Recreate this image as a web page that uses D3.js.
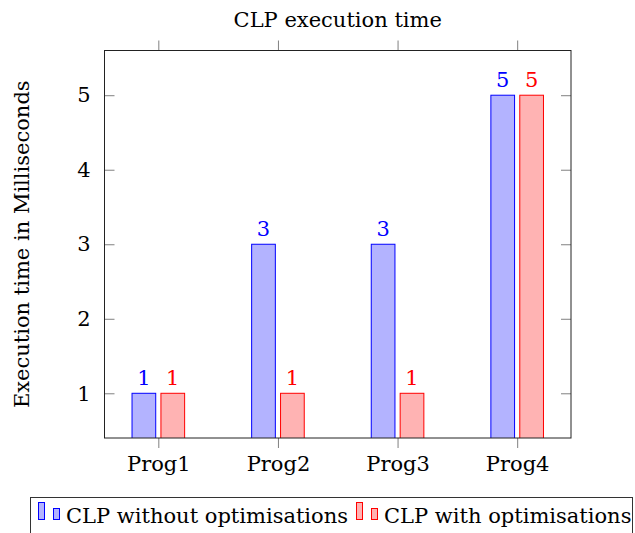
<!DOCTYPE html>
<html><head><meta charset="utf-8">
<script src="https://cdn.jsdelivr.net/npm/d3@7"></script>
<style>body{margin:0;background:#fff}svg{display:block}text{font-family:"DejaVu Serif",serif}</style>
</head><body><svg id="c" width="635" height="533"></svg>
<script>
const categories = ["Prog1","Prog2","Prog3","Prog4"];
const seriesNames = ["CLP without optimisations","CLP with optimisations"];
const withoutOpt = [1,3,3,5];
const withOpt = [1,1,1,5];
const yTicks = [1,2,3,4,5];
const title = "CLP execution time";
const yLabel = "Execution time in Milliseconds";

const series = [
  {name: seriesNames[0], values: withoutOpt, fill:"#b3b3ff", stroke:"#0000ff"},
  {name: seriesNames[1], values: withOpt, fill:"#ffb3b3", stroke:"#ff0000"}
];
const svg = d3.select("#c");
const L=104.5, R=571, T=50.5, B=438;
const fs = 21;
const x = d3.scalePoint().domain(categories).range([L,R]).padding(0.45);
const y = d3.scaleLinear().domain([0.4,5.6]).range([B,T]);
const sub = d3.scaleBand().domain(seriesNames).range([-26.3,26.3]).paddingInner(0.18);

svg.append("defs").append("clipPath").attr("id","clip")
  .append("rect").attr("x",L).attr("y",T).attr("width",R-L).attr("height",B-T);

// bars
const g = svg.append("g").attr("clip-path","url(#clip)");
series.forEach(s=>{
  g.selectAll(null).data(categories).enter().append("rect")
    .attr("x",(c)=>x(c)+sub(s.name)).attr("width",sub.bandwidth())
    .attr("y",(c,i)=>y(s.values[i])).attr("height",(c,i)=>y(0)-y(s.values[i]))
    .attr("fill",s.fill).attr("stroke",s.stroke).attr("stroke-width",1);
});
// value labels
series.forEach(s=>{
  svg.selectAll(null).data(categories).enter().append("text")
    .attr("x",(c)=>x(c)+sub(s.name)+sub.bandwidth()/2).attr("y",(c,i)=>y(s.values[i])-8)
    .attr("text-anchor","middle").attr("font-size",fs).attr("fill",s.stroke)
    .text((c,i)=>s.values[i]);
});

// ticks
const tk = "#808080";
const axB = svg.append("g").attr("transform",`translate(0,${B})`)
  .call(d3.axisBottom(x).tickSize(10).tickPadding(8));
const axT = svg.append("g").attr("transform",`translate(0,${T})`)
  .call(d3.axisTop(x).tickSize(10).tickFormat(""));
const axL = svg.append("g").attr("transform",`translate(${L},0)`)
  .call(d3.axisLeft(y).tickValues(yTicks).tickSize(-10).tickPadding(14).tickFormat(d3.format("d")));
const axR = svg.append("g").attr("transform",`translate(${R},0)`)
  .call(d3.axisRight(y).tickValues(yTicks).tickSize(-10).tickFormat(""));
[axB,axT,axL,axR].forEach(a=>{
  a.select(".domain").remove();
  a.selectAll(".tick line").attr("stroke",tk);
  a.selectAll("text").attr("font-family","DejaVu Serif").attr("font-size",fs).attr("fill","#000");
});
// frame
svg.append("rect").attr("x",L).attr("y",T).attr("width",R-L).attr("height",B-T)
  .attr("fill","none").attr("stroke","#222").attr("stroke-width",1);

// title & y label
svg.append("text").attr("x",(L+R)/2).attr("y",27).attr("text-anchor","middle")
  .attr("font-size",fs).text(title);
svg.append("text").attr("transform",`translate(29,${(T+B)/2}) rotate(-90)`)
  .attr("text-anchor","middle").attr("font-size",fs).text(yLabel);

// legend
const lg = svg.append("g");
lg.append("rect").attr("x",30.5).attr("y",497.5).attr("width",602).attr("height",60)
  .attr("fill","#fff").attr("stroke","#333");
const legX = [38, 356];
series.forEach((s,i)=>{
  const gx = legX[i];
  lg.append("rect").attr("x",gx+0.5).attr("y",502.5).attr("width",6).attr("height",17)
    .attr("fill",s.fill).attr("stroke",s.stroke);
  lg.append("rect").attr("x",gx+15.5).attr("y",508.5).attr("width",6).attr("height",11)
    .attr("fill",s.fill).attr("stroke",s.stroke);
  lg.append("text").attr("x",gx+28).attr("y",523).attr("font-size",fs).text(s.name);
});
</script></body></html>
